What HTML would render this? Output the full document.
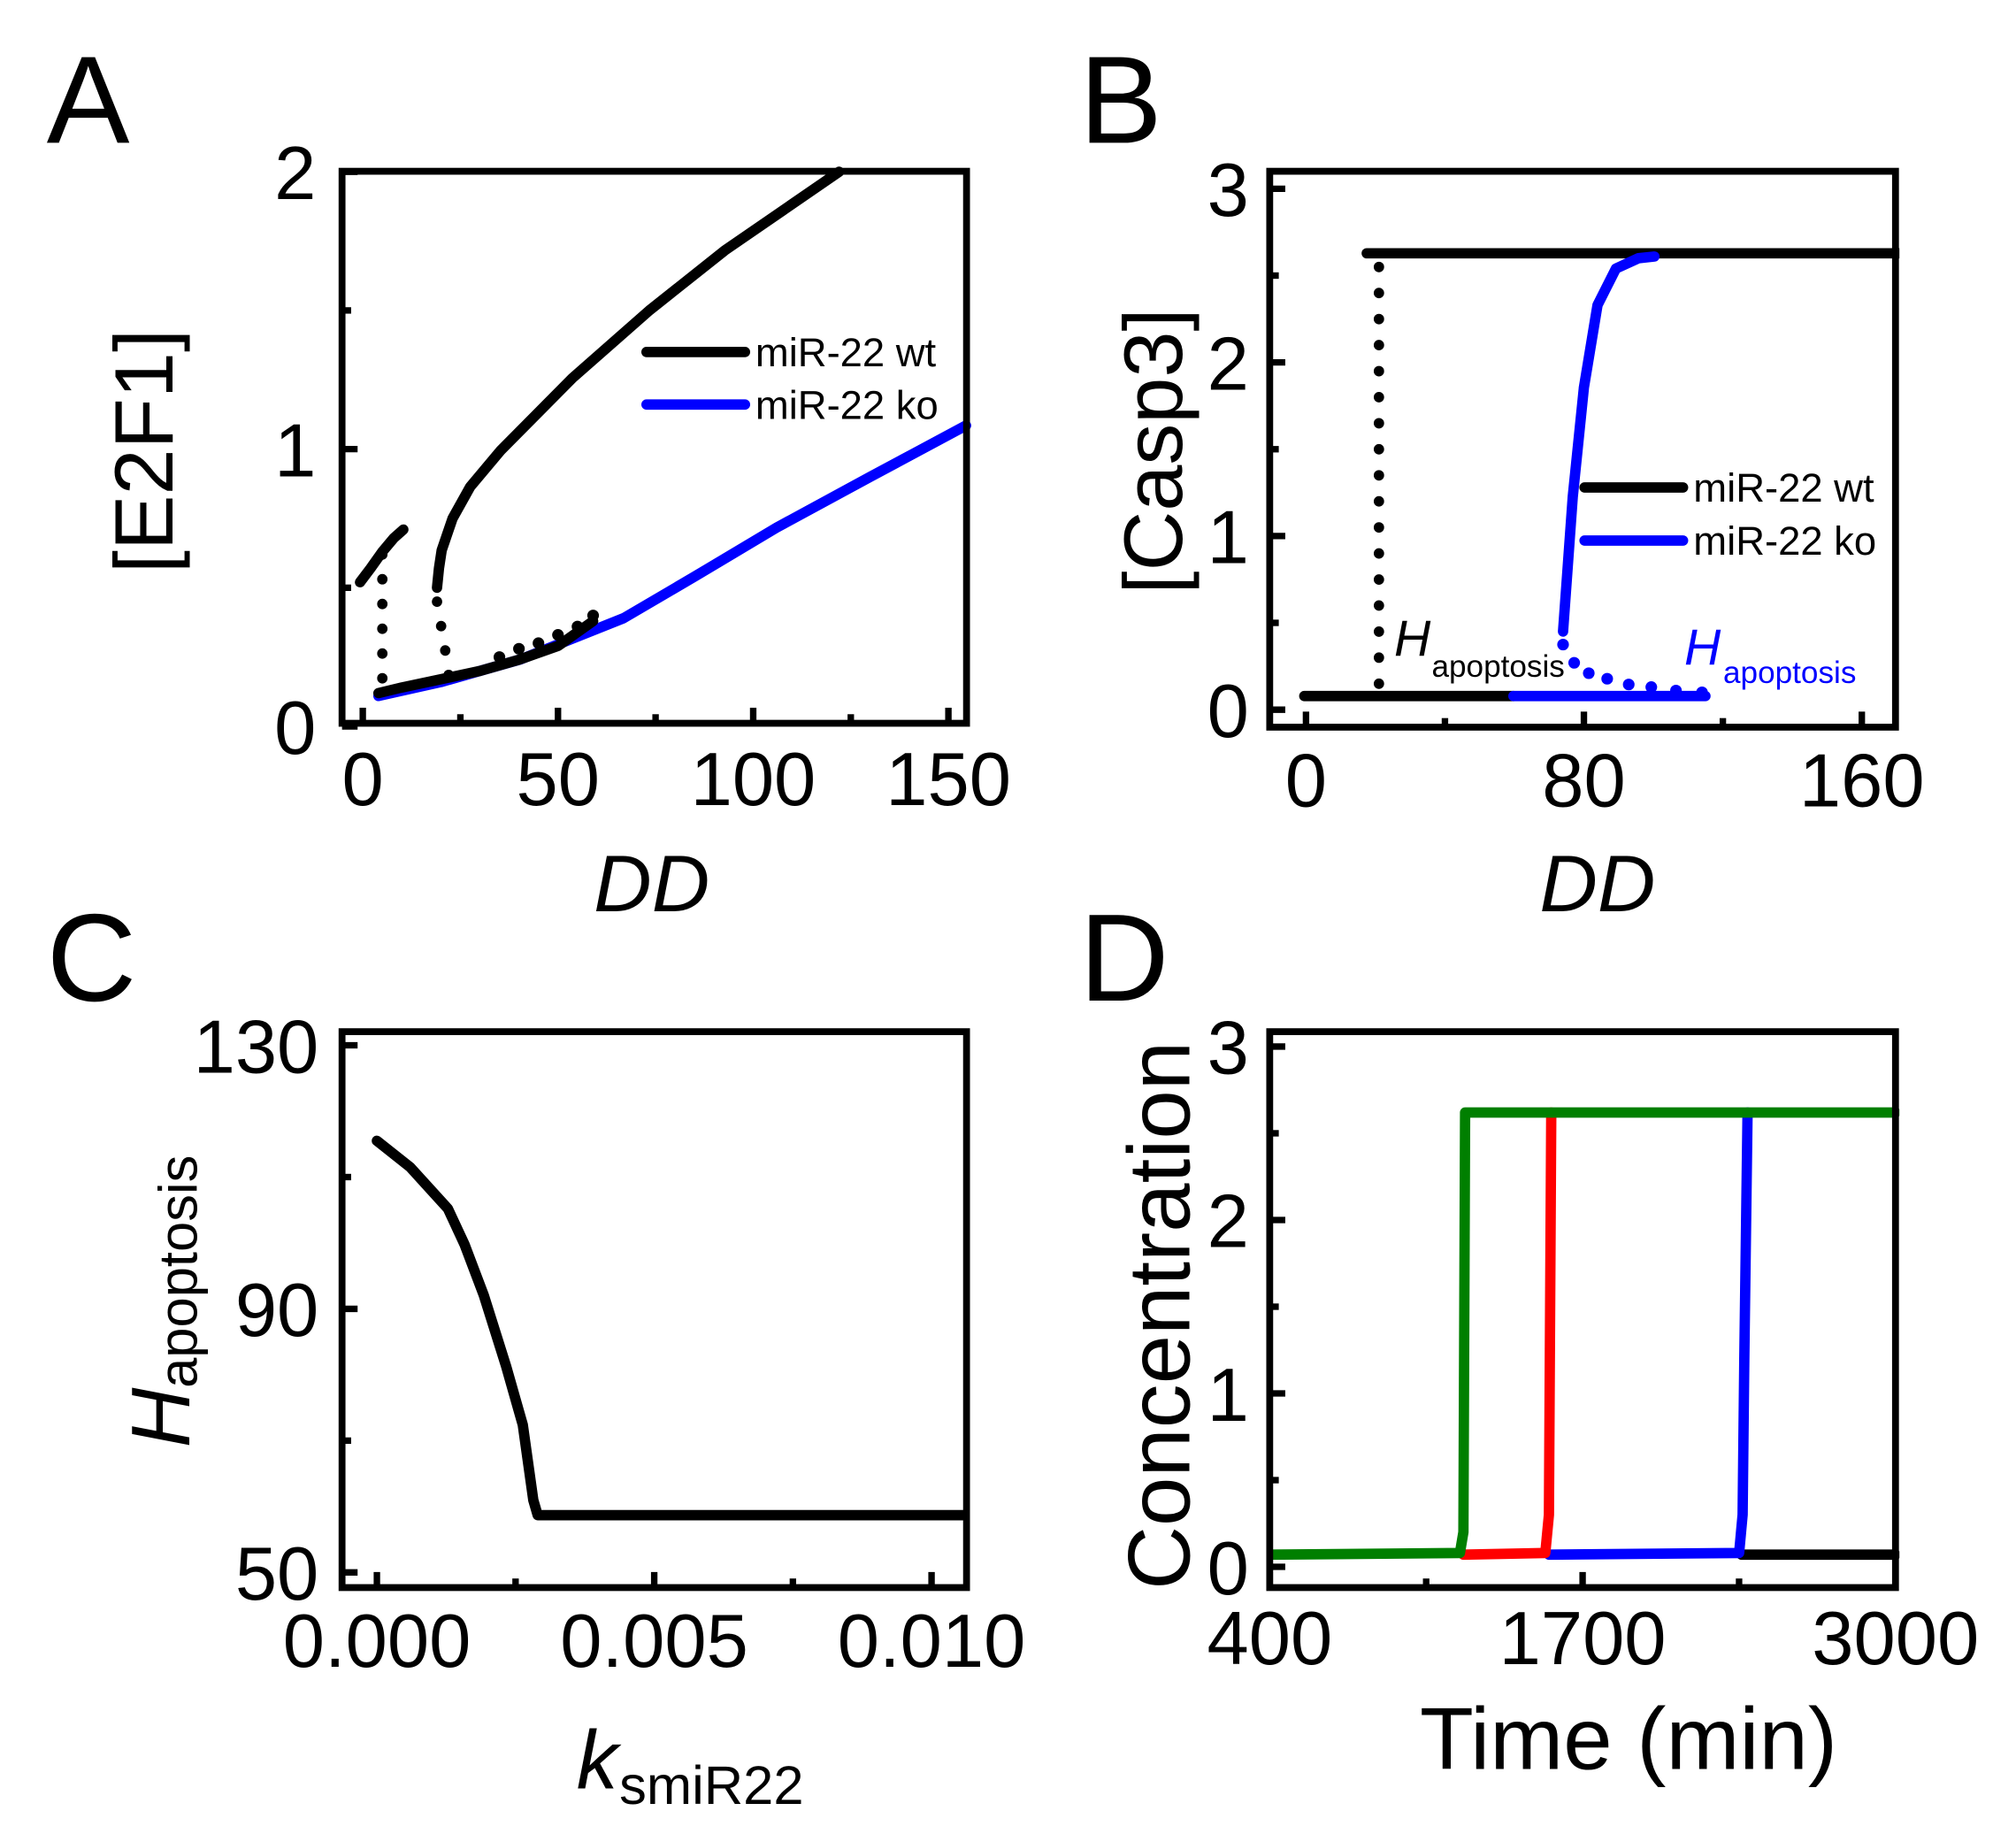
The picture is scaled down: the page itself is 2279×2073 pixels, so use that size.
<!DOCTYPE html>
<html><head><meta charset="utf-8"><style>
html,body{margin:0;padding:0;background:#fff}
svg{display:block}
text{font-family:"Liberation Sans",Arial,sans-serif;fill:#000}
</style></head><body>
<svg id="fig" width="2279" height="2073" viewBox="0 0 1556 1415" xmlns="http://www.w3.org/2000/svg">
<g id="root"></g>
</svg>
<script>
// Panel A data
const aWtLowDD=[4,10,20,30,40,50,59];
const aWtLowY=[0.12,0.14,0.17,0.2,0.24,0.29,0.38];
const aWtLowDotDD=[35,40,45,50,55,59];
const aWtLowDotY=[0.23,0.26,0.28,0.31,0.34,0.38];
const aWtUp1DD=[-0.7,2,5,8,10.4];
const aWtUp1Y=[0.52,0.57,0.63,0.68,0.71];
const aWtUp2DD=[19,19.5,20.2,23,27.5,35.3,53.7,73.4,92.7,122];
const aWtUp2Y=[0.5,0.57,0.635,0.75,0.864,0.995,1.256,1.5,1.716,2.0];
const aKoDD=[4,20,40.5,66.8,85,106,130,154.5];
const aKoY=[0.11,0.16,0.242,0.39,0.54,0.717,0.9,1.085];
// Panel B data
const bWtHighDD=[17.5,175];
const bWtHighY=[2.628,2.628];
const bWtLowDD=[-0.5,59.7];
const bWtLowY=[0.078,0.078];
const bKoLowDD=[59.7,115];
const bKoLowY=[0.078,0.078];
const bKoRiseDD=[74,76.8,80,83.9,89.2,95.7,100.3];
const bKoRiseY=[0.45,1.226,1.855,2.33,2.54,2.6,2.61];
const bKoDotDD=[74,77.2,81.4,86.7,92.9,99.4,106.5,114];
const bKoDotY=[0.375,0.27,0.21,0.178,0.145,0.13,0.11,0.1];
// Panel C data
const cK=[0,0.0006,0.00128,0.00158,0.00193,0.00233,0.00263,0.00282,0.0029,0.0106];
const cH=[115.5,111.5,105.2,99.8,92,81.3,72.4,61,58.7,58.7];
// Panel D data
const dGreenT=[400,1190,1205,1212,3000];
const dGreenY=[0.07,0.08,0.2,2.62,2.62];
const dRedT=[1205,1545,1560,1570];
const dRedY=[0.07,0.08,0.3,2.62];
const dBlueT=[1560,2350,2365,2372,2385];
const dBlueY=[0.07,0.08,0.3,1.2,2.62];
const dBlackT=[2360,3000];
const dBlackY=[0.07,0.07];

const NS="http://www.w3.org/2000/svg";
const root=document.getElementById('root');
function el(tag,attrs,parent,txt){const e=document.createElementNS(NS,tag);for(const k in attrs)e.setAttribute(k,attrs[k]);if(txt!==undefined)e.textContent=txt;(parent||root).appendChild(e);return e;}
function lin(d0,d1,p0,p1){return v=>p0+(v-d0)*(p1-p0)/(d1-d0);}
function path(xs,ys,fx,fy){return xs.map((x,i)=>(i?'L':'M')+fx(x).toFixed(1)+','+fy(ys[i]).toFixed(1)).join(' ');}
function line(g,xs,ys,fx,fy,color,name,dotted){
  const p=el('path',{d:path(xs,ys,fx,fy),fill:'none',stroke:color,'stroke-width':8,'stroke-linejoin':'round','stroke-linecap':'round'},g);
  if(dotted)p.setAttribute('stroke-dasharray','0.1 '+dotted);
  
  
}
function dots(g,xs,ys,fx,fy,color,name){
  xs.forEach((x,i)=>{const c=el('circle',{cx:fx(x),cy:fy(ys[i]),r:4.5,fill:color},g);
    
    });
}
function frame(g,x0,y0,x1,y1){const r=el('rect',{x:x0,y:y0,width:x1-x0,height:y1-y0,fill:'none',stroke:'#000','stroke-width':5.3},g);}
function xticks(g,vals,fx,yb,labels,minor,ly){
  vals.forEach((v,i)=>{el('line',{x1:fx(v),x2:fx(v),y1:yb,y2:yb-12,stroke:'#000','stroke-width':5},g);
    const t=el('text',{x:fx(v),y:ly,'font-size':58,'text-anchor':'middle'},g,labels[i]);});
  minor.forEach(v=>el('line',{x1:fx(v),x2:fx(v),y1:yb,y2:yb-7,stroke:'#000','stroke-width':5},g));
}
function yticks(g,vals,fy,xl,labels,minor,lx){
  vals.forEach((v,i)=>{el('line',{x1:xl,x2:xl+12,y1:fy(v),y2:fy(v),stroke:'#000','stroke-width':5},g);
    const t=el('text',{x:lx,y:fy(v)+21,'font-size':58,'text-anchor':'end'},g,labels[i]);});
  minor.forEach(v=>el('line',{x1:xl,x2:xl+7,y1:fy(v),y2:fy(v),stroke:'#000','stroke-width':5},g));
}
function panelLabel(txt,x,y){const t=el('text',{x:x,y:y,'font-size':96},root,txt);}
function legendEntry(g,x,y,color,txt,name){
  el('line',{x1:x,x2:x+76,y1:y,y2:y,stroke:color,'stroke-width':8,'stroke-linecap':'round'},g);
  const t=el('text',{x:x+84,y:y+11,'font-size':31},g,txt);
  
  
}

// ===== Panel A =====
let gA=el('g',{});
let fx=lin(0,150,280,732), fy=lin(0,2,560.4,132.4);
line(gA,aKoDD,aKoY,fx,fy,'#0000ff','ko-branch');
line(gA,aWtLowDD,aWtLowY,fx,fy,'#000','wt-lower-branch');
dots(gA,aWtLowDotDD,aWtLowDotY.map(v=>v+0.02),fx,fy,'#000','wt-lower-unstable');
line(gA,aWtUp1DD,aWtUp1Y,fx,fy,'#000','wt-upper-branch-1');
line(gA,[5,5],[0.62,0.12],fx,fy,'#000','wt-jump-1',19);
line(gA,aWtUp2DD,aWtUp2Y,fx,fy,'#000','wt-upper-branch-2');
line(gA,[19,22,22],[0.45,0.2,0.12],fx,fy,'#000','wt-jump-2',19);
frame(gA,264,132,746,558);
xticks(gA,[0,50,100,150],fx,558,['0','50','100','150'],[25,75,125],621);
yticks(gA,[0,1,2],fy,264,['0','1','2'],[0.5,1.5],244);
legendEntry(gA,499,271.5,'#000','miR-22 wt','legend-wt');
legendEntry(gA,499,312,'#0000ff','miR-22 ko','legend-ko');
let t=el('text',{transform:'translate(133,348) rotate(-90)','font-size':64,'text-anchor':'middle'},gA,'[E2F1]');
t=el('text',{x:503,y:703,'font-size':62,'font-style':'italic','text-anchor':'middle'},gA,'DD');

// ===== Panel B =====
let gB=el('g',{});
fx=lin(0,160,1008,1437); fy=lin(0,3,547.5,145.5);
line(gB,bWtHighDD,bWtHighY,fx,fy,'#000','wt-high-state');
line(gB,bWtLowDD,bWtLowY,fx,fy,'#000','wt-low-state');
line(gB,bKoLowDD,bKoLowY,fx,fy,'#0000ff','ko-low-state');
line(gB,[21,21],[2.55,0.1],fx,fy,'#000','wt-threshold',20);
line(gB,bKoRiseDD,bKoRiseY,fx,fy,'#0000ff','ko-rise');
dots(gB,bKoDotDD,bKoDotY,fx,fy,'#0000ff','ko-unstable');
el('rect',{x:1466,y:120,width:40,height:450,fill:'#fff'},gB);
frame(gB,980,132,1463,561);
xticks(gB,[0,80,160],fx,561,['0','80','160'],[40,120],622);
yticks(gB,[0,1,2,3],fy,980,['0','1','2','3'],[0.5,1.5,2.5],964);
legendEntry(gB,1223,376,'#000','miR-22 wt','legend-wt');
legendEntry(gB,1223,417,'#0000ff','miR-22 ko','legend-ko');
t=el('text',{x:1076,y:506,'font-size':39,'font-style':'italic'},gB,'H');
el('text',{x:1105,y:522,'font-size':24},gB,'apoptosis');
t=el('text',{x:1300,y:513,'font-size':39,'font-style':'italic',style:'fill:#0000ff'},gB,'H');
el('text',{x:1330,y:527,'font-size':24,style:'fill:#0000ff'},gB,'apoptosis');
t=el('text',{transform:'translate(912,348) rotate(-90)','font-size':64,'text-anchor':'middle'},gB,'[Casp3]');
t=el('text',{x:1233,y:703,'font-size':62,'font-style':'italic','text-anchor':'middle'},gB,'DD');

// ===== Panel C =====
let gC=el('g',{});
fx=lin(0,0.01,290.9,719); fy=lin(50,130,1213.3,806.5);
line(gC,cK,cH,fx,fy,'#000','h-apoptosis-curve');
el('rect',{x:748,y:790,width:40,height:450,fill:'#fff'},gC);
frame(gC,264,796,746,1225);
xticks(gC,[0,0.005,0.01],fx,1225,['0.000','0.005','0.010'],[0.0025,0.0075],1286);
yticks(gC,[50,90,130],fy,264,['50','90','130'],[70,110],246);
t=el('text',{transform:'translate(146,1117) rotate(-90)','font-size':64,'font-style':'italic'},gC,'H');
el('text',{transform:'translate(152,1071) rotate(-90)','font-size':42},gC,'apoptosis');
t=el('text',{x:445,y:1380,'font-size':64,'font-style':'italic'},gC,'k');
el('text',{x:478,y:1392,'font-size':42},gC,'smiR22');

// ===== Panel D =====
let gD=el('g',{});
fx=lin(400,3000,980,1463); fy=lin(0,3,1209,807.5);
line(gD,dBlackT,dBlackY,fx,fy,'#000','black-trace');
line(gD,dBlueT,dBlueY,fx,fy,'#0000ff','blue-trace');
line(gD,dRedT,dRedY,fx,fy,'#ff0000','red-trace');
line(gD,dGreenT,dGreenY,fx,fy,'#007f00','green-trace');
el('rect',{x:1466,y:790,width:40,height:450,fill:'#fff'},gD);
el('rect',{x:940,y:790,width:38,height:450,fill:'#fff'},gD);
frame(gD,980,796,1463,1225);
xticks(gD,[400,1700,3000],fx,1225,['400','1700','3000'],[1050,2350],1284);
yticks(gD,[0,1,2,3],fy,980,['0','1','2','3'],[0.5,1.5,2.5],964);
t=el('text',{transform:'translate(918,1015) rotate(-90)','font-size':68,'text-anchor':'middle'},gD,'Concentration');
t=el('text',{x:1257,y:1365,'font-size':68,'text-anchor':'middle'},gD,'Time (min)');

panelLabel('A',36,110);
panelLabel('B',833,110);
panelLabel('C',36,772);
panelLabel('D',833,772);
</script>
</body></html>
